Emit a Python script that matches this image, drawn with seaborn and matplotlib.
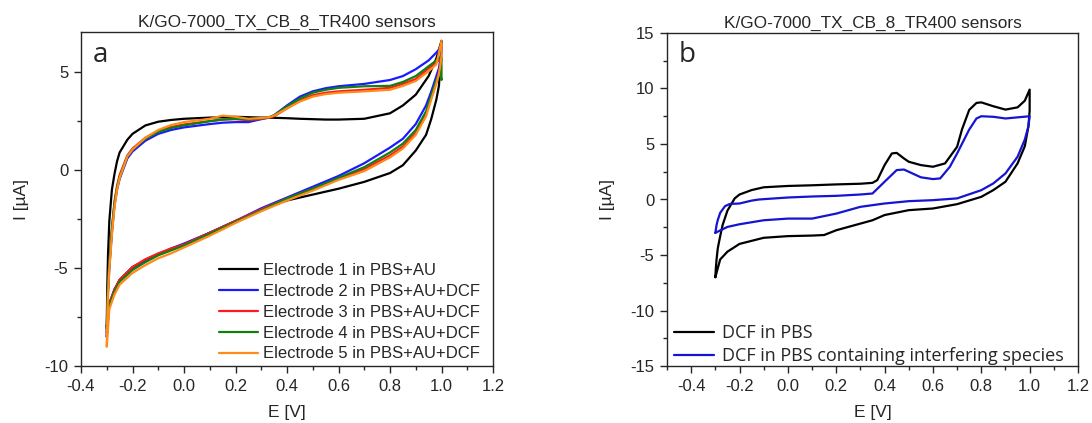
import numpy as np
import pandas as pd
import matplotlib.pyplot as plt
import seaborn as sns
from matplotlib.ticker import MultipleLocator

# ---------------- panel a data ----------------
E_up_a = [-0.3, -0.298, -0.295, -0.29, -0.28, -0.27, -0.26, -0.25, -0.22, -0.2, -0.15, -0.1, -0.05,
          0.0, 0.1, 0.15, 0.2, 0.25, 0.3, 0.33, 0.35, 0.4, 0.45, 0.5, 0.55, 0.6, 0.7, 0.8,
          0.85, 0.9, 0.95, 0.98, 1.0]
E_low_a = [1.0, 0.995, 0.99, 0.98, 0.96, 0.94, 0.9, 0.85, 0.8, 0.7, 0.6, 0.5, 0.4, 0.3, 0.2,
           0.1, 0.0, -0.05, -0.1, -0.15, -0.2, -0.25, -0.27, -0.29, -0.3]

el1_up = [-8.0, -6.0, -4.3, -2.6, -1.0, -0.2, 0.45, 0.9, 1.55, 1.85, 2.28, 2.47, 2.56,
          2.62, 2.68, 2.7, 2.72, 2.7, 2.68, 2.68, 2.67, 2.65, 2.62, 2.6, 2.58, 2.58, 2.62, 2.9,
          3.3, 3.85, 4.8, 5.7, 6.6]
el1_low = [6.5, 5.3, 4.3, 3.6, 2.6, 1.8, 1.0, 0.25, -0.15, -0.6, -0.95, -1.25, -1.55, -2.0, -2.6,
           -3.2, -3.8, -4.05, -4.3, -4.6, -4.95, -5.6, -6.1, -6.9, -8.0]

el2_up = [-8.5, -7.4, -6.2, -5.0, -3.2, -1.8, -1.0, -0.45, 0.6, 0.95, 1.5, 1.85, 2.05,
          2.18, 2.35, 2.42, 2.45, 2.45, 2.6, 2.68, 2.8, 3.3, 3.75, 4.02, 4.18, 4.28, 4.4, 4.6,
          4.8, 5.15, 5.6, 6.0, 6.3]
el2_low = [6.0, 5.6, 5.2, 4.8, 4.0, 3.3, 2.35, 1.6, 1.15, 0.35, -0.3, -0.85, -1.4, -1.95, -2.6,
           -3.2, -3.75, -4.0, -4.3, -4.6, -5.0, -5.65, -6.1, -6.8, -8.5]

el3_up = [-8.3, -7.2, -6.0, -4.8, -3.0, -1.6, -0.8, -0.25, 0.75, 1.1, 1.65, 2.0, 2.2,
          2.33, 2.5, 2.58, 2.6, 2.55, 2.62, 2.68, 2.75, 3.15, 3.55, 3.82, 3.95, 4.02, 4.1, 4.2,
          4.4, 4.65, 5.2, 5.5, 5.7]
el3_low = [5.7, 5.3, 5.0, 4.5, 3.7, 2.85, 1.9, 1.2, 0.75, 0.05, -0.45, -0.95, -1.45, -2.0, -2.6,
           -3.2, -3.8, -4.0, -4.25, -4.55, -4.95, -5.6, -6.1, -6.8, -8.3]

el4_up = [-8.1, -7.0, -5.9, -4.7, -3.0, -1.7, -0.9, -0.35, 0.7, 1.05, 1.6, 1.95, 2.15,
          2.28, 2.5, 2.58, 2.62, 2.58, 2.65, 2.7, 2.8, 3.25, 3.65, 3.95, 4.1, 4.2, 4.28, 4.3,
          4.5, 4.8, 5.3, 5.6, 5.8]
el4_low = [4.6, 4.9, 4.9, 4.6, 3.8, 3.0, 2.05, 1.35, 0.9, 0.15, -0.4, -0.95, -1.45, -2.05, -2.65,
           -3.25, -3.85, -4.1, -4.35, -4.7, -5.1, -5.7, -6.2, -6.9, -8.1]

el5_up = [-9.0, -7.6, -6.4, -5.1, -3.3, -1.9, -1.0, -0.4, 0.7, 1.05, 1.65, 2.05, 2.3,
          2.45, 2.62, 2.78, 2.72, 2.62, 2.66, 2.7, 2.78, 3.15, 3.5, 3.75, 3.88, 3.95, 4.02, 4.1,
          4.3, 4.55, 5.05, 5.4, 6.6]
el5_low = [5.8, 5.3, 4.9, 4.4, 3.6, 2.75, 1.8, 1.1, 0.65, -0.05, -0.5, -1.05, -1.55, -2.1, -2.7,
           -3.35, -3.95, -4.25, -4.5, -4.85, -5.25, -5.85, -6.35, -7.1, -9.0]

labels_a = ["Electrode 1 in PBS+AU", "Electrode 2 in PBS+AU+DCF", "Electrode 3 in PBS+AU+DCF",
            "Electrode 4 in PBS+AU+DCF", "Electrode 5 in PBS+AU+DCF"]
colors_a = ["#000000", "#1a1aff", "#ff1a1a", "#108010", "#ff8c1a"]

# ---------------- panel b data ----------------
E_up_dcf = [-0.3, -0.298, -0.295, -0.29, -0.28, -0.27, -0.25, -0.22, -0.2, -0.15, -0.1, 0.0,
            0.1, 0.2, 0.3, 0.35, 0.37, 0.4, 0.43, 0.45, 0.48, 0.5, 0.55, 0.6, 0.65, 0.7, 0.72,
            0.75, 0.78, 0.8, 0.85, 0.9, 0.95, 0.98, 1.0]
I_up_dcf = [-7.0, -6.2, -5.4, -4.4, -3.3, -2.3, -1.0, 0.1, 0.45, 0.85, 1.1, 1.22,
            1.28, 1.36, 1.42, 1.5, 1.75, 3.1, 4.15, 4.2, 3.7, 3.4, 3.1, 2.95, 3.25, 4.75, 6.3,
            8.07, 8.7, 8.75, 8.4, 8.1, 8.3, 8.9, 9.9]
E_low_dcf = [1.0, 0.995, 0.98, 0.95, 0.9, 0.85, 0.8, 0.7, 0.6, 0.5, 0.4, 0.35, 0.3, 0.2, 0.15,
             0.1, 0.0, -0.1, -0.2, -0.25, -0.28, -0.3]
I_low_dcf = [8.0, 6.6, 4.8, 3.25, 1.6, 0.85, 0.24, -0.42, -0.81, -0.96, -1.4, -1.87, -2.17, -2.77, -3.2,
             -3.25, -3.3, -3.45, -4.0, -4.7, -5.4, -7.0]

E_up_int = [-0.3, -0.295, -0.29, -0.28, -0.26, -0.24, -0.2, -0.15, -0.12, 0.0, 0.1, 0.2, 0.3,
            0.35, 0.4, 0.45, 0.48, 0.5, 0.55, 0.6, 0.63, 0.67, 0.7, 0.75, 0.78, 0.8, 0.85, 0.9,
            0.95, 1.0]
I_up_int = [-3.0, -2.3, -1.85, -1.2, -0.6, -0.4, -0.36, -0.1, 0.0, 0.18, 0.27, 0.33, 0.45,
            0.54, 1.6, 2.65, 2.7, 2.5, 2.0, 1.84, 1.9, 2.95, 4.15, 6.3, 7.3, 7.5, 7.45, 7.3,
            7.4, 7.5]
E_low_int = [1.0, 0.995, 0.98, 0.95, 0.9, 0.85, 0.8, 0.7, 0.6, 0.5, 0.4, 0.3, 0.2, 0.1, 0.0,
             -0.1, -0.2, -0.25, -0.3]
I_low_int = [7.5, 6.6, 5.4, 3.85, 2.35, 1.45, 0.84, 0.1, -0.06, -0.15, -0.36, -0.66, -1.27, -1.72, -1.72,
             -1.87, -2.23, -2.47, -3.0]

labels_b = ["DCF in PBS", "DCF in PBS containing interfering species"]
colors_b = ["#000000", "#1414d2"]

# ---------------- build long tables ----------------
rows = []
curves_a = [(el1_up, el1_low), (el2_up, el2_low), (el3_up, el3_low), (el4_up, el4_low), (el5_up, el5_low)]
for lab, (up, low) in zip(labels_a, curves_a):
    for e, i in zip(E_up_a + E_low_a, up + low):
        rows.append((lab, e, i))
df_a = pd.DataFrame(rows, columns=["label", "E", "I"])

rows = []
for e, i in zip(E_up_dcf + E_low_dcf, I_up_dcf + I_low_dcf):
    rows.append((labels_b[0], e, i))
for e, i in zip(E_up_int + E_low_int, I_up_int + I_low_int):
    rows.append((labels_b[1], e, i))
df_b = pd.DataFrame(rows, columns=["label", "E", "I"])

# ---------------- plotting ----------------
sns.set_style("ticks")
plt.rcParams['font.family'] = ['Liberation Sans', 'DejaVu Sans']
plt.rcParams['axes.unicode_minus'] = False
plt.rcParams['xtick.direction'] = 'out'
plt.rcParams['ytick.direction'] = 'out'

fig = plt.figure(figsize=(10.92, 4.23), dpi=100)
ax1 = fig.add_axes([81 / 1092, 1 - 366 / 423, 412 / 1092, 334 / 423])
ax2 = fig.add_axes([667 / 1092, 1 - 366 / 423, 411 / 1092, 333 / 423])

sns.lineplot(data=df_a, x="E", y="I", hue="label", palette=colors_a, sort=False,
             estimator=None, linewidth=1.6, ax=ax1)
sns.lineplot(data=df_b, x="E", y="I", hue="label", palette=colors_b, sort=False,
             estimator=None, linewidth=1.6, ax=ax2)

ax1.set_xlim(-0.4, 1.2)
ax1.set_ylim(-10, 7.05)
ax1.yaxis.set_major_locator(MultipleLocator(5))
ax1.yaxis.set_minor_locator(MultipleLocator(2.5))
ax1.text(12 / 412, 304 / 334, "a", transform=ax1.transAxes, fontsize=20, va="baseline",
         family="Open Sans")
ax1.legend(loc="lower right", bbox_to_anchor=(0.985, -0.006), frameon=False, fontsize=12,
           handlelength=2.35, labelspacing=0.35, borderaxespad=0, handletextpad=0.3)

ax2.set_xlim(-0.5, 1.2)
ax2.set_ylim(-15, 15)
ax2.yaxis.set_major_locator(MultipleLocator(5))
ax2.yaxis.set_minor_locator(MultipleLocator(2.5))
ax2.text(12 / 411, 304 / 333, "b", transform=ax2.transAxes, fontsize=20, va="baseline",
         family="Open Sans")
ax2.legend(loc="lower left", bbox_to_anchor=(0.0, -0.02), frameon=False,
           prop={"family": "Open Sans", "size": 13}, handlelength=2.2, labelspacing=0.3,
           borderaxespad=0, handletextpad=0.45)

for ax in (ax1, ax2):
    ax.xaxis.set_major_locator(MultipleLocator(0.2))
    ax.xaxis.set_minor_locator(MultipleLocator(0.1))
    ax.xaxis.set_major_formatter(plt.FuncFormatter(lambda v, p: f"{v:.1f}"))
    ax.set_title("K/GO-7000_TX_CB_8_TR400 sensors", fontsize=12.4, pad=4)
    ax.set_xlabel("E [V]", fontsize=12.5, labelpad=8)
    ax.set_ylabel("I [\u00b5A]", fontsize=12.5, labelpad=11)
    ax.tick_params(which="major", length=5, width=1, labelsize=12, pad=4)
    ax.tick_params(which="minor", length=2.7, width=1)
    for s in ax.spines.values():
        s.set_linewidth(1.0)

plt.savefig("out.png", dpi=100)
